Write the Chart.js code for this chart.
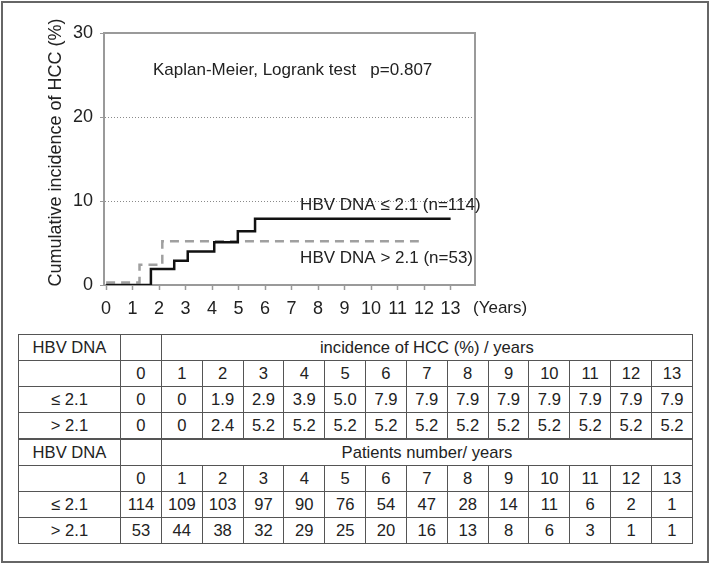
<!DOCTYPE html>
<html>
<head>
<meta charset="utf-8">
<script src="https://cdn.jsdelivr.net/npm/chart.js@4/dist/chart.umd.min.js"></script>
<style>
  html, body { margin: 0; padding: 0; background: #fff; }
  #wrap { position: relative; width: 710px; height: 564px; background: #fff; font-family: "Liberation Sans", Arial, sans-serif; }
  #frame { position: absolute; left: 1px; top: 1px; width: 708px; height: 562px; border: 2px solid #666; box-sizing: border-box; }
  #km { position: absolute; left: 0; top: 0; }
  #tbl { position: absolute; left: 18px; top: 334px; border-collapse: collapse; table-layout: fixed; width: 675px; color: #222; font-size: 16.6px; }
  #tbl td { border: 1px solid #555; height: 25px; padding: 0; text-align: center; vertical-align: middle; line-height: 18px; }
  #tbl tr.split td { border-top: 2px solid #555; }
</style>
</head>
<body>
<div id="wrap">
  <div id="frame"></div>
  <canvas id="km" width="710" height="325"></canvas>
  <table id="tbl"></table>
</div>
<script>
// ---------- data ----------
const years = [0, 1, 2, 3, 4, 5, 6, 7, 8, 9, 10, 11, 12, 13];
const groups = ["≤ 2.1", "> 2.1"];
const incidenceLow  = [0, 0, 1.9, 2.9, 3.9, 5.0, 7.9, 7.9, 7.9, 7.9, 7.9, 7.9, 7.9, 7.9];
const incidenceHigh = [0, 0, 2.4, 5.2, 5.2, 5.2, 5.2, 5.2, 5.2, 5.2, 5.2, 5.2, 5.2, 5.2];
const patientsLow  = [114, 109, 103, 97, 90, 76, 54, 47, 28, 14, 11, 6, 2, 1];
const patientsHigh = [53, 44, 38, 32, 29, 25, 20, 16, 13, 8, 6, 3, 1, 1];

// Kaplan-Meier step curves (event times in years, cumulative incidence %)
const kmLowX  = [0, 1.69, 2.57, 3.08, 4.08, 4.97, 5.62, 13];
const kmLowY  = [0, 1.9, 2.9, 4.0, 5.1, 6.4, 7.9, 7.9];
const kmHighX = [0, 1.26, 2.12, 11.8];
const kmHighY = [0.3, 2.4, 5.2, 5.2];

const yTicks = [0, 10, 20, 30];
const xTicks = years;

const seriesLabels = ["HBV DNA ≤ 2.1 (n=114)", "HBV DNA > 2.1 (n=53)"];
const annotation = "Kaplan-Meier, Logrank test   p=0.807";
const yTitle = "Cumulative incidence of HCC (%)";
const xUnit = "(Years)";
const tableTitles = ["incidence of HCC (%) / years", "Patients number/ years"];

// ---------- chart ----------
const FONT = '"Liberation Sans", Arial, sans-serif';
const toPts = (xs, ys) => xs.map((x, i) => ({ x: x, y: ys[i] }));

const textPlugin = {
  id: 'texts',
  afterDraw(chart) {
    const ctx = chart.ctx, a = chart.chartArea;
    const xs = chart.scales.x, ys = chart.scales.y;
    ctx.save();
    // top & right frame of the plot box
    ctx.strokeStyle = '#9a9a9a';
    ctx.lineWidth = 2;
    ctx.beginPath();
    ctx.moveTo(a.left, a.top);
    ctx.lineTo(a.right, a.top);
    ctx.lineTo(a.right, a.bottom);
    ctx.stroke();

    ctx.fillStyle = '#222';
    ctx.textBaseline = 'middle';
    ctx.textAlign = 'left';
    ctx.font = '17px ' + FONT;
    ctx.fillText(annotation, xs.getPixelForValue(1.77), ys.getPixelForValue(25.5));
    ctx.fillText(seriesLabels[0], xs.getPixelForValue(7.32), ys.getPixelForValue(9.5));
    ctx.fillText(seriesLabels[1], xs.getPixelForValue(7.32), ys.getPixelForValue(3.2));
    ctx.fillText(xUnit, a.right - 2, a.bottom + 23);

    // y axis title
    ctx.font = '18px ' + FONT;
    ctx.textAlign = 'center';
    ctx.translate(56, 152.5);
    ctx.rotate(-Math.PI / 2);
    ctx.fillText(yTitle, 0, 0);
    ctx.restore();
  }
};

new Chart(document.getElementById('km'), {
  type: 'line',
  data: {
    datasets: [
      {
        label: seriesLabels[0],
        data: toPts(kmLowX, kmLowY),
        stepped: 'before',
        borderColor: '#111',
        borderWidth: 2.5,
        pointRadius: 0,
        fill: false
      },
      {
        label: seriesLabels[1],
        data: toPts(kmHighX, kmHighY),
        stepped: 'before',
        borderColor: '#a0a0a0',
        borderWidth: 2.5,
        borderDash: [9, 6],
        pointRadius: 0,
        fill: false
      }
    ]
  },
  options: {
    responsive: false,
    animation: false,
    layout: { padding: { top: 33, left: 42, right: 235, bottom: 0 } },
    plugins: { legend: { display: false }, tooltip: { enabled: false } },
    scales: {
      x: {
        type: 'linear',
        min: -0.08,
        max: 13.92,
        afterBuildTicks: s => { s.ticks = xTicks.map(v => ({ value: v })); },
        afterFit: s => { s.height = 40; },
        border: { display: true, color: '#9a9a9a', width: 2 },
        grid: { drawOnChartArea: false, drawTicks: true, tickLength: 5, tickColor: '#9a9a9a', tickWidth: 1.5 },
        ticks: { font: { family: FONT, size: 18 }, color: '#222', padding: 8, maxRotation: 0, autoSkip: false }
      },
      y: {
        type: 'linear',
        min: 0,
        max: 30,
        afterBuildTicks: s => { s.ticks = yTicks.map(v => ({ value: v })); },
        afterFit: s => { s.width = 62; },
        border: { display: true, color: '#9a9a9a', width: 2, dash: [1, 2] },
        grid: {
          color: c => (c.tick && (c.tick.value === 10 || c.tick.value === 20)) ? '#8a8a8a' : 'rgba(0,0,0,0)',
          lineWidth: 1,
          drawTicks: true,
          tickLength: 4,
          tickColor: '#9a9a9a'
        },
        ticks: { font: { family: FONT, size: 18 }, color: '#222', padding: 7 }
      }
    }
  },
  plugins: [textPlugin]
});

// ---------- table ----------
const fmtInc = v => v === 0 ? '0' : v.toFixed(1);
const tbl = document.getElementById('tbl');
let html = '<colgroup><col style="width:102px">' + years.map(() => '<col>').join('') + '</colgroup>';
const yearRow = '<tr><td></td>' + years.map(y => '<td>' + y + '</td>').join('') + '</tr>';
html += '<tr><td>HBV DNA</td><td></td><td colspan="' + (years.length - 1) + '">' + tableTitles[0] + '</td></tr>';
html += yearRow;
html += '<tr><td>' + groups[0] + '</td>' + incidenceLow.map(v => '<td>' + fmtInc(v) + '</td>').join('') + '</tr>';
html += '<tr><td>' + groups[1] + '</td>' + incidenceHigh.map(v => '<td>' + fmtInc(v) + '</td>').join('') + '</tr>';
html += '<tr class="split"><td>HBV DNA</td><td></td><td colspan="' + (years.length - 1) + '">' + tableTitles[1] + '</td></tr>';
html += yearRow;
html += '<tr><td>' + groups[0] + '</td>' + patientsLow.map(v => '<td>' + v + '</td>').join('') + '</tr>';
html += '<tr><td>' + groups[1] + '</td>' + patientsHigh.map(v => '<td>' + v + '</td>').join('') + '</tr>';
tbl.innerHTML = html;
</script>
</body>
</html>
